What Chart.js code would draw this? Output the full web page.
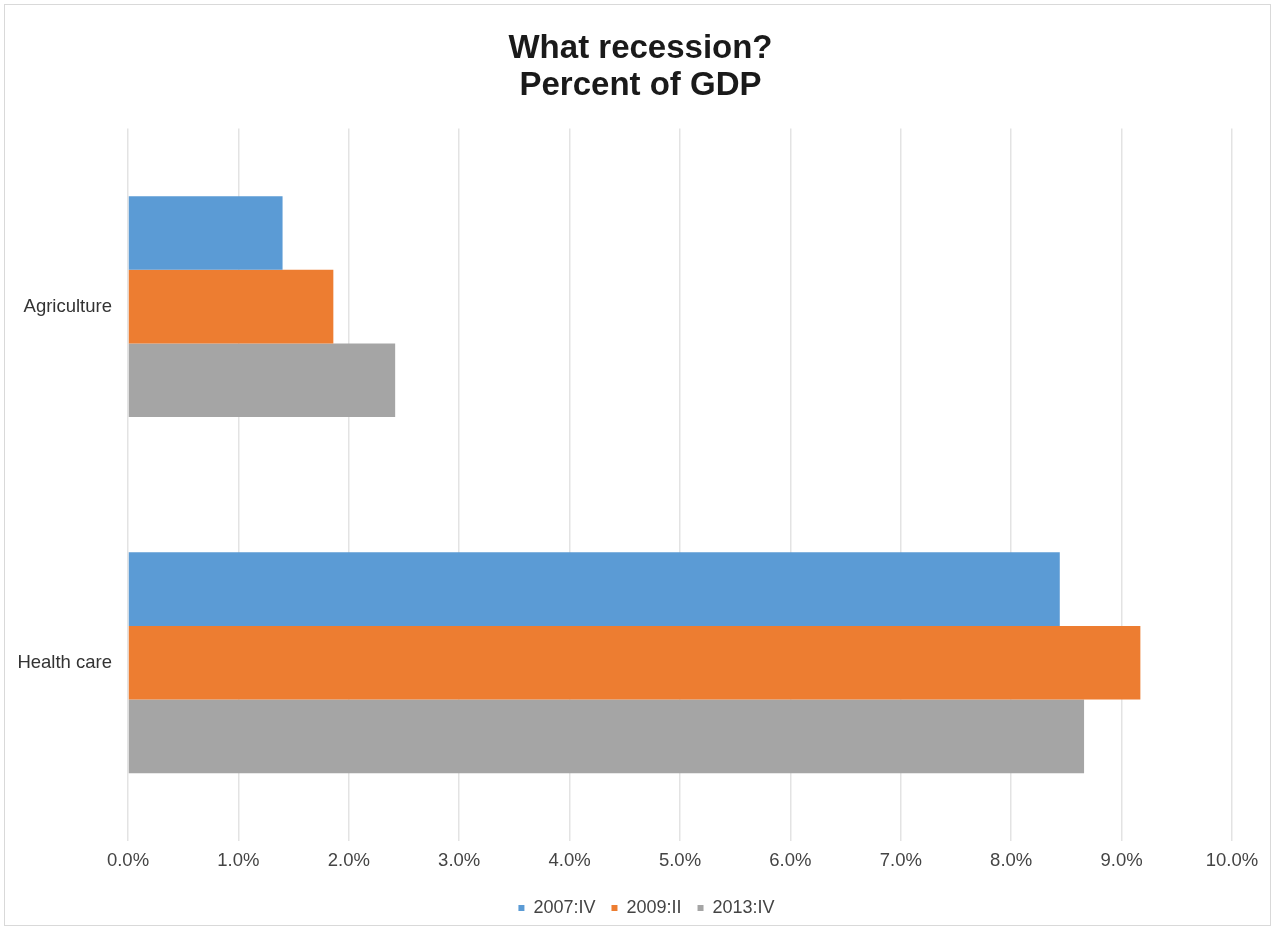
<!DOCTYPE html>
<html>
<head>
<meta charset="utf-8">
<script src="https://cdn.jsdelivr.net/npm/chart.js@4.4.0/dist/chart.umd.min.js"></script>
<style>
  html, body { margin: 0; padding: 0; background: #fff; }
  #wrap { position: absolute; left: 4px; top: 4px; width: 1267px; height: 922px; border: 1px solid #d9d9d9; box-sizing: border-box; }
  #chart { position: absolute; left: -4px; top: -4px; }
</style>
</head>
<body>
<div id="wrap"><canvas id="chart" width="1277" height="932"></canvas></div>
<script>
// Percent of GDP by sector, three quarters
var categories = ['Agriculture', 'Health care'];
var seriesNames = ['2007:IV', '2009:II', '2013:IV'];
var seriesColors = ['#5b9bd5', '#ed7d31', '#a5a5a5'];
var q2007 = [1.40, 8.44];
var q2009 = [1.86, 9.17];
var q2013 = [2.42, 8.66];
var xTicks = [0, 1, 2, 3, 4, 5, 6, 7, 8, 9, 10];

var seriesValues = [q2007, q2009, q2013];

// Title and legend sit a little right of the plot centre in the original.
var nudgeBlocks = {
  id: 'nudgeBlocks',
  afterLayout: function (chart) {
    if (chart.titleBlock) { chart.titleBlock.left += 24; chart.titleBlock.right += 24; }
    if (chart.legend) { chart.legend.left += 30; chart.legend.right += 30; }
  }
};

new Chart(document.getElementById('chart'), {
  type: 'bar',
  data: {
    labels: categories,
    datasets: seriesNames.map(function (name, i) {
      return {
        label: name,
        data: seriesValues[i],
        backgroundColor: seriesColors[i],
        borderWidth: 0,
        categoryPercentage: 0.62,
        barPercentage: 1.0
      };
    })
  },
  plugins: [nudgeBlocks],
  options: {
    indexAxis: 'y',
    responsive: false,
    animation: false,
    layout: { padding: { left: 0, right: 46, top: 30, bottom: 6 } },
    plugins: {
      title: {
        display: true,
        text: ['What recession?', 'Percent of GDP'],
        color: '#1a1a1a',
        font: { family: 'Liberation Sans', size: 33, weight: 'bold', lineHeight: 1.1 },
        padding: { top: 0, bottom: 25 }
      },
      legend: {
        position: 'bottom',
        labels: {
          color: '#444',
          font: { family: 'Liberation Sans', size: 18 },
          boxWidth: 6,
          boxHeight: 6,
          padding: 16
        }
      },
      tooltip: { enabled: false }
    },
    scales: {
      x: {
        min: 0,
        max: 10,
        afterBuildTicks: function (axis) {
          axis.ticks = xTicks.map(function (v) { return { value: v }; });
        },
        afterFit: function (axis) { axis.height += 2; },
        ticks: {
          color: '#444',
          font: { family: 'Liberation Sans', size: 18.5 },
          padding: 9,
          callback: function (v) { return Number(v).toFixed(1) + '%'; }
        },
        grid: { color: '#e3e3e3', lineWidth: 1.5, drawTicks: false },
        border: { display: false }
      },
      y: {
        afterFit: function (axis) { axis.width = 127; },
        ticks: {
          color: '#333',
          font: { family: 'Liberation Sans', size: 18.5 },
          padding: 8
        },
        grid: { display: false },
        border: { display: false }
      }
    }
  }
});
</script>
</body>
</html>
